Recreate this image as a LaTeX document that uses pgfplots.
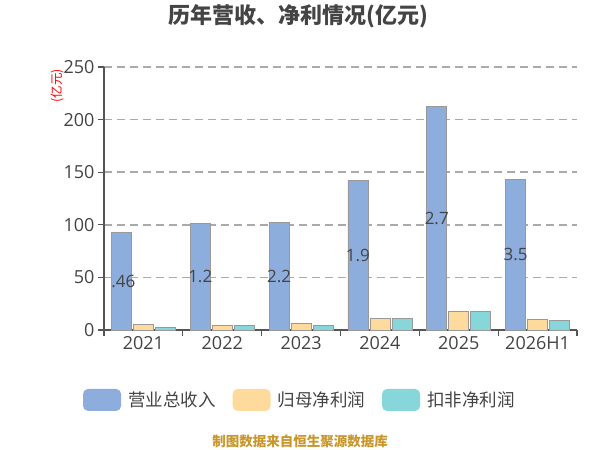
\documentclass[border=0pt]{standalone}
\usepackage{fontspec}
\setmainfont{Open Sans}
\newfontfamily\cjk{Noto Sans CJK SC}
\usepackage{pgfplots}
\pgfplotsset{compat=1.18}
\definecolor{cblue}{HTML}{8DAEDC}
\definecolor{cpeach}{HTML}{FFDA9D}
\definecolor{cteal}{HTML}{87D6D9}
\definecolor{txt}{HTML}{444444}
\definecolor{gridc}{HTML}{AAAAAA}
\definecolor{axc}{HTML}{555555}
\definecolor{foot}{HTML}{C9972C}
\pgfplotsset{roundleg/.style={legend image code/.code={\path[##1, draw=none, rounded corners=5pt] (0pt,-11pt) rectangle (38pt,11pt);}}}
\begin{document}
\begin{tikzpicture}
\useasboundingbox (0pt,0pt) rectangle (600pt,450pt);
\fill[white] (0pt,0pt) rectangle (600pt,450pt);
\begin{axis}[
  at={(104pt,120pt)}, anchor=south west,
  scale only axis, width=473pt, height=263pt,
  xmin=-0.5, xmax=5.5, ymin=0, ymax=250,
  axis x line*=bottom, axis y line*=left,
  axis line style={axc, line width=1.2pt, -},
  ytick={0,50,...,250},
  ymajorgrids,
  major grid style={gridc, line width=1.5pt, dash pattern=on 8pt off 5pt},
  xtick={-0.5,0.5,...,5.5}, xticklabels={},
  extra x ticks={0,1,2,3,4,5},
  extra x tick labels={2021,2022,2023,2024,2025,2026H1},
  extra x tick style={major tick length=0pt, grid=none},
  tick align=outside, major tick length=6pt,
  tick style={axc, line width=1.2pt},
  /pgf/number format/assume math mode=true,
  ticklabel style={font=\fontsize{18}{18}\selectfont, text=txt},
  xticklabel style={yshift=-3pt},
  ybar, bar width=20pt,
  legend columns=3,
  legend style={at={(0.414,-0.266)}, anchor=center, draw=none, fill=none,
    font=\cjk\fontsize{17.5}{17.5}\selectfont, text=txt,
    /tikz/every odd column/.append style={column sep=5pt},
    /tikz/every even column/.append style={column sep=15pt}},
  legend cell align=left,
  clip=false,
]
\addplot[fill=cblue, draw=axc!60, line width=0.6pt, bar shift=-22pt, roundleg]
  coordinates {(0,92.46) (1,101.2) (2,102.2) (3,141.9) (4,212.7) (5,143.5)};
\addlegendentry{营业总收入}
\addplot[fill=cpeach, draw=axc!60, line width=0.6pt, bar shift=0pt, roundleg]
  coordinates {(0,5.1) (1,4.9) (2,6.1) (3,10.8) (4,17.7) (5,10.4)};
\addlegendentry{归母净利润}
\addplot[fill=cteal, draw=axc!60, line width=0.6pt, bar shift=22pt, roundleg]
  coordinates {(0,2.8) (1,4.1) (2,4.5) (3,10.8) (4,17.7) (5,9.5)};
\addlegendentry{扣非净利润}
\node[font=\fontsize{17}{17}\selectfont, text=txt, xshift=-20pt] at (axis cs:0,46.2) {.46};
\node[font=\fontsize{17}{17}\selectfont, text=txt, xshift=-22pt] at (axis cs:1,50.6) {1.2};
\node[font=\fontsize{17}{17}\selectfont, text=txt, xshift=-22pt] at (axis cs:2,51.1) {2.2};
\node[font=\fontsize{17}{17}\selectfont, text=txt, xshift=-22pt] at (axis cs:3,70.9) {1.9};
\node[font=\fontsize{17}{17}\selectfont, text=txt, xshift=-22pt] at (axis cs:4,106.3) {2.7};
\node[font=\fontsize{17}{17}\selectfont, text=txt, xshift=-22pt] at (axis cs:5,71.7) {3.5};
\end{axis}
\node[rotate=90, text=red, font=\cjk\fontsize{12.5}{12.5}\selectfont] at (57pt,364pt) {(亿元)};
\node[font=\cjk\bfseries\fontsize{22}{22}\selectfont, text=txt] at (298pt,434pt) {历年营收、净利情况(亿元)};
\node[font=\cjk\bfseries\fontsize{13.5}{13.5}\selectfont, text=foot] at (300pt,9pt) {制图数据来自恒生聚源数据库};
\end{tikzpicture}
\end{document}
